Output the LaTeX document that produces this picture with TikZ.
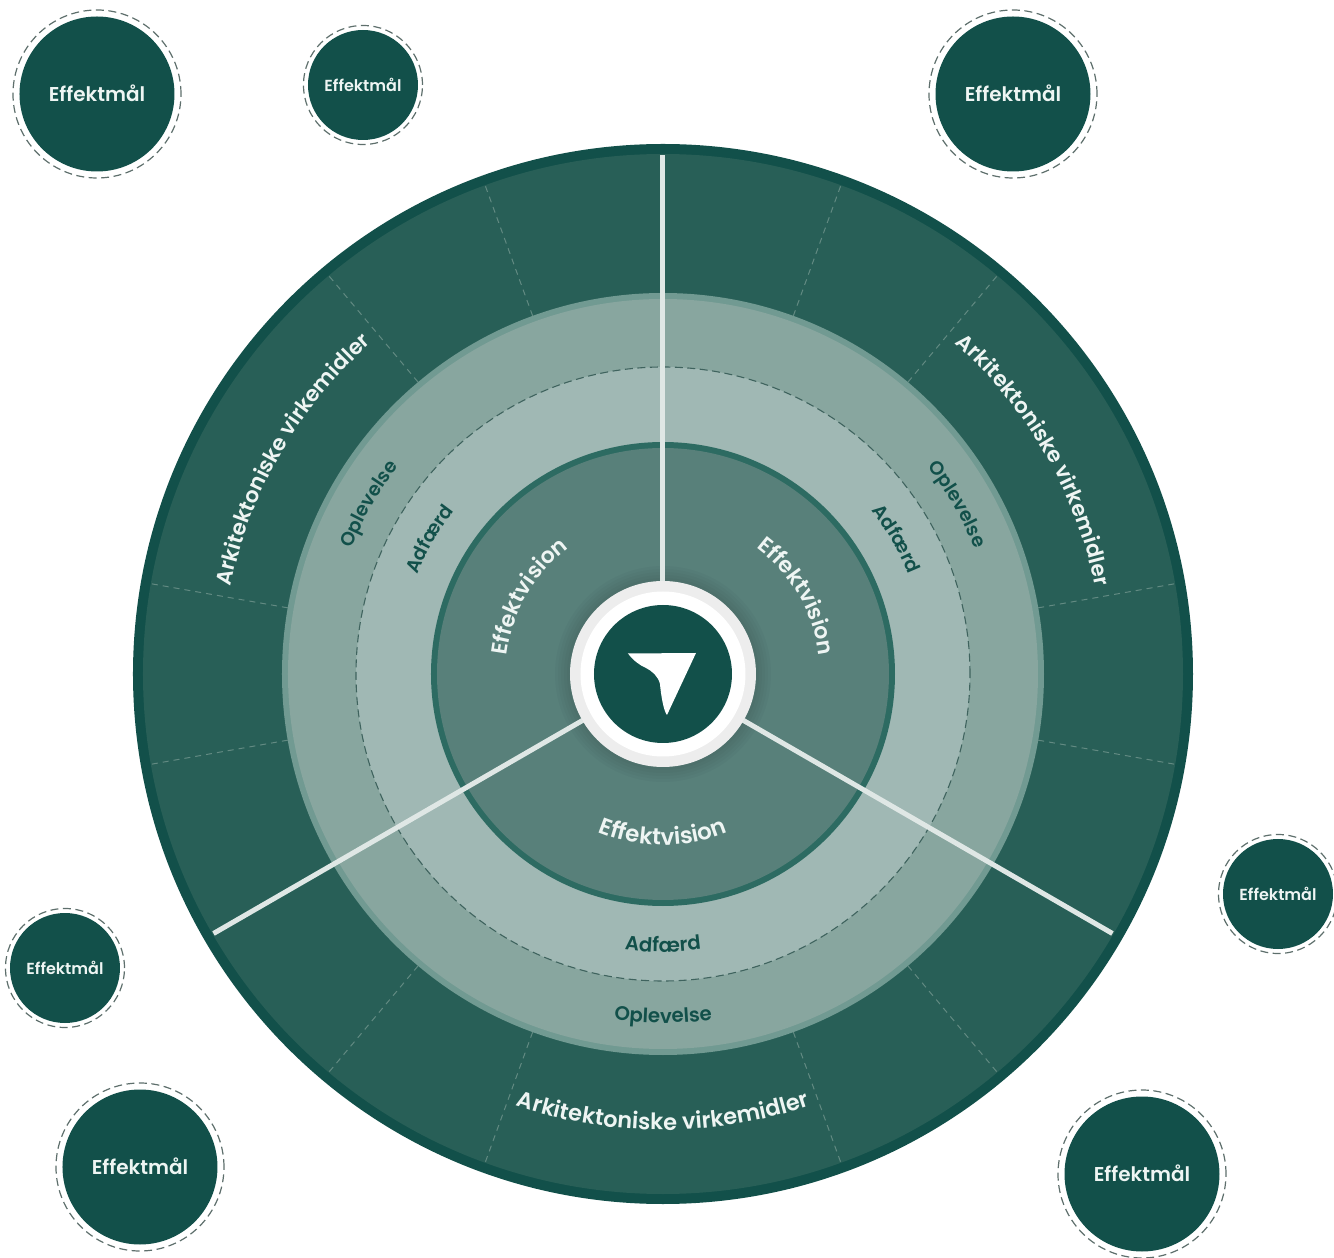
\documentclass[tikz,border=0pt]{standalone}
\usepackage{fontspec}
\usetikzlibrary{decorations.text}
\newfontfamily\pf{Poppins SemiBold}
\definecolor{rim}{HTML}{12504A}
\definecolor{ringd}{HTML}{285F57}
\definecolor{opedge}{HTML}{719A92}
\definecolor{opfill}{HTML}{88A69F}
\definecolor{adfill}{HTML}{A0B8B4}
\definecolor{inrim}{HTML}{2D6B62}
\definecolor{infill}{HTML}{58807A}
\definecolor{lighttxt}{HTML}{EEF5F3}
\definecolor{divider}{HTML}{DFE7E5}
\definecolor{dashgrey}{HTML}{5E6F6C}
\newcommand{\goaltext}{\raisebox{1.5pt}{Effektmål}}
\tikzset{
  goalbig/.style={circle,fill=rim,minimum size=155pt,inner sep=0pt,text=lighttxt,font=\pf\fontsize{20}{20}\selectfont},
  goalsmall/.style={circle,fill=rim,minimum size=110pt,inner sep=0pt,text=lighttxt,font=\pf\fontsize{16}{16}\selectfont},
  goaldash/.style={draw=dashgrey,line width=1.2pt,dash pattern=on 8pt off 4.5pt},
  spoke/.style={draw=divider,line width=5pt},
  sector/.style={draw=opfill!60!ringd,line width=1pt,dash pattern=on 6pt off 5pt},
}
% #1 radius, #2 start angle, #3 end angle, #4 size, #5 colour, #6 text
\newcommand{\arclabel}[6]{%
  \path[decorate,decoration={text along path,text align=center,text color=#5,
    text={|\pf\fontsize{#4}{#4}\selectfont|#6}}]
    (#2:#1) arc[start angle=#2,end angle=#3,radius=#1];}
\begin{document}
\begin{tikzpicture}[x=1pt,y=1pt]
\useasboundingbox (-663,674) rectangle (671,-584);
% rings
\fill[rim] (0,0) circle (530);
\fill[ringd] (0,0) circle (520);
\foreach \a in {70,50,10,-10,-50,-70,110,130,170,190,230,250}
  \draw[sector] (\a:381) -- (\a:519);
\fill[opedge] (0,0) circle (381);
\fill[opfill] (0,0) circle (375);
\fill[adfill] (0,0) circle (307);
\draw[dashgrey!60!rim,line width=1.1pt,dash pattern=on 8pt off 4.5pt] (0,0) circle (307);
\fill[inrim] (0,0) circle (232);
\fill[infill] (0,0) circle (226);
% soft shadow
\foreach \r in {108,105,102,99,96}
  \fill[black,opacity=0.025] (0,0) circle (\r);
% spokes
\coordinate (s1) at (90:519);
\coordinate (s2) at (210:519);
\coordinate (s3) at (-30:519);
\node[circle,minimum size=185pt,inner sep=0pt] (hubarea) at (0,0) {};
\draw[spoke] (hubarea) -- (s1);
\draw[spoke] (hubarea) -- (s2);
\draw[spoke] (hubarea) -- (s3);
% hub
\node[circle,fill=black!7,minimum size=186pt,inner sep=0pt] (hub) at (0,0) {};
\fill[white] (0,0) circle (82.5);
\node[circle,fill=rim,minimum size=138pt,inner sep=0pt] (logo) at (0,0) {};
\fill[white] (-35,20.5) -- (33,21) -- (4,-41)
  .. controls (1,-38) and (-2,-22) .. (-3,-10)
  .. controls (-5,-2) and (-11,3) .. (-17,6)
  .. controls (-24,9) and (-30,14) .. cycle;
% arc labels
\arclabel{441}{190}{110}{21.5}{lighttxt}{Arkitektoniske virkemidler}
\arclabel{441}{70}{-10}{21.5}{lighttxt}{Arkitektoniske virkemidler}
\arclabel{456}{230}{310}{22.5}{lighttxt}{Arkitektoniske virkemidler}
\arclabel{336}{190}{110}{19}{rim}{Oplevelse}
\arclabel{336}{70}{-10}{19}{rim}{Oplevelse}
\arclabel{349}{230}{310}{19.7}{rim}{Oplevelse}
\arclabel{265}{190}{110}{19}{rim}{Adfærd}
\arclabel{265}{70}{-10}{19}{rim}{Adfærd}
\arclabel{278}{230}{310}{19.7}{rim}{Adfærd}
\arclabel{157}{210}{90}{22}{lighttxt}{Effektvision}
\arclabel{157}{90}{-30}{22}{lighttxt}{Effektvision}
\arclabel{171}{210}{330}{23}{lighttxt}{Effektvision}
% goal circles
\node[goalbig] (g1) at (-566,580) {\goaltext};
\node[goalbig] (g2) at (350,580) {\goaltext};
\node[goalbig] (g3) at (-523,-493) {\goaltext};
\node[goalbig] (g4) at (479,-500) {\goaltext};
\node[goalsmall] (g5) at (-300,589) {Effektmål};
\node[goalsmall] (g6) at (615,-220) {Effektmål};
\node[goalsmall] (g7) at (-598,-294) {Effektmål};
\foreach \n in {g1,g2,g3,g4} \draw[goaldash] (\n.center) circle (84);
\foreach \n in {g5,g6,g7} \draw[goaldash] (\n.center) circle (59.5);
\end{tikzpicture}
\end{document}
